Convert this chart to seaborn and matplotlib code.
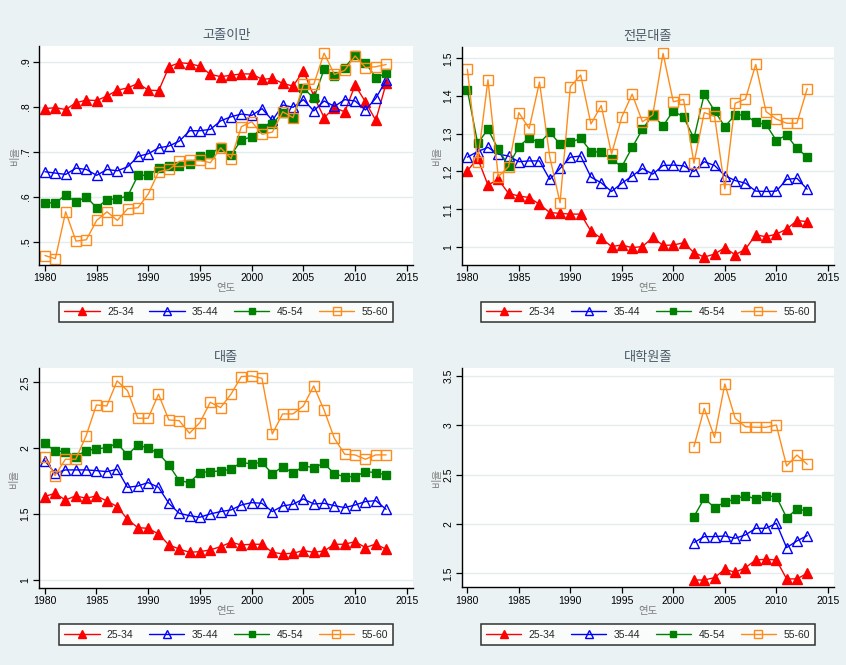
import matplotlib
matplotlib.use("Agg")
import matplotlib.pyplot as plt
from matplotlib.ticker import FuncFormatter
import seaborn as sns

# 연도
years = list(range(1980, 2014))
grad_years = list(range(2002, 2014))
age_groups = ["25-34", "35-44", "45-54", "55-60"]

# 고졸이만
lowhs_2534 = [0.796, 0.798, 0.794, 0.809, 0.815, 0.814, 0.824, 0.837, 0.842, 0.852,
              0.837, 0.836, 0.889, 0.898, 0.896, 0.890, 0.872, 0.867, 0.870, 0.873,
              0.873, 0.861, 0.863, 0.852, 0.846, 0.880, 0.824, 0.776, 0.798, 0.789,
              0.848, 0.811, 0.770, 0.852]
lowhs_3544 = [0.656, 0.653, 0.650, 0.664, 0.661, 0.648, 0.661, 0.658, 0.667, 0.690,
              0.696, 0.709, 0.713, 0.724, 0.747, 0.747, 0.750, 0.769, 0.778, 0.784,
              0.781, 0.796, 0.770, 0.804, 0.799, 0.816, 0.791, 0.813, 0.801, 0.816,
              0.813, 0.793, 0.819, 0.859]
lowhs_4554 = [0.587, 0.587, 0.604, 0.589, 0.600, 0.576, 0.594, 0.596, 0.602, 0.648,
              0.648, 0.664, 0.669, 0.668, 0.673, 0.690, 0.695, 0.711, 0.693, 0.727,
              0.733, 0.753, 0.763, 0.787, 0.776, 0.842, 0.819, 0.883, 0.868, 0.887,
              0.915, 0.898, 0.865, 0.874]
lowhs_5560 = [0.470, 0.463, 0.567, 0.502, 0.505, 0.548, 0.567, 0.548, 0.574, 0.576,
              0.607, 0.656, 0.661, 0.679, 0.681, 0.681, 0.676, 0.709, 0.685, 0.756,
              0.767, 0.739, 0.744, 0.789, 0.776, 0.850, 0.850, 0.919, 0.872, 0.881,
              0.913, 0.887, 0.889, 0.894]

# 전문대졸
college_2534 = [1.202, 1.235, 1.164, 1.179, 1.142, 1.135, 1.131, 1.113, 1.091, 1.089,
                1.087, 1.087, 1.042, 1.023, 1.001, 1.005, 0.998, 1.001, 1.025, 1.004,
                1.005, 1.011, 0.985, 0.973, 0.981, 0.998, 0.979, 0.994, 1.032, 1.027,
                1.034, 1.047, 1.070, 1.067]
college_3544 = [1.238, 1.253, 1.264, 1.246, 1.241, 1.226, 1.228, 1.228, 1.179, 1.208,
                1.238, 1.241, 1.185, 1.170, 1.147, 1.169, 1.188, 1.208, 1.193, 1.216,
                1.217, 1.215, 1.200, 1.226, 1.216, 1.189, 1.176, 1.169, 1.148, 1.147,
                1.148, 1.179, 1.182, 1.153]
college_4554 = [1.416, 1.275, 1.312, 1.259, 1.215, 1.266, 1.290, 1.275, 1.304, 1.273,
                1.277, 1.288, 1.253, 1.251, 1.232, 1.213, 1.264, 1.312, 1.350, 1.321,
                1.361, 1.344, 1.288, 1.405, 1.361, 1.319, 1.350, 1.350, 1.330, 1.325,
                1.282, 1.297, 1.261, 1.239]
college_5560 = [1.471, 1.226, 1.443, 1.186, 1.213, 1.356, 1.314, 1.437, 1.239, 1.117,
                1.425, 1.456, 1.326, 1.375, 1.246, 1.345, 1.405, 1.332, 1.350, 1.513,
                1.385, 1.391, 1.222, 1.356, 1.347, 1.154, 1.381, 1.392, 1.484, 1.359,
                1.339, 1.328, 1.328, 1.420]

# 대졸
univ_2534 = [1.633, 1.658, 1.607, 1.638, 1.620, 1.638, 1.600, 1.557, 1.461, 1.397,
             1.392, 1.349, 1.266, 1.235, 1.210, 1.215, 1.228, 1.253, 1.286, 1.266,
             1.271, 1.271, 1.210, 1.198, 1.203, 1.223, 1.210, 1.220, 1.271, 1.271,
             1.291, 1.246, 1.273, 1.233]
univ_3544 = [1.906, 1.810, 1.835, 1.835, 1.835, 1.830, 1.822, 1.840, 1.703, 1.713,
             1.739, 1.703, 1.582, 1.506, 1.488, 1.476, 1.501, 1.519, 1.531, 1.569,
             1.587, 1.582, 1.519, 1.562, 1.574, 1.615, 1.577, 1.582, 1.564, 1.549,
             1.569, 1.595, 1.602, 1.536]
univ_4554 = [2.037, 1.979, 1.974, 1.936, 1.982, 1.994, 2.004, 2.037, 1.949, 2.025,
             2.000, 1.961, 1.873, 1.754, 1.739, 1.815, 1.822, 1.827, 1.840, 1.893,
             1.880, 1.893, 1.805, 1.860, 1.810, 1.865, 1.853, 1.885, 1.805, 1.784,
             1.784, 1.822, 1.815, 1.797]
univ_5560 = [1.936, 1.792, 1.916, 1.916, 2.093, 2.328, 2.320, 2.510, 2.437, 2.227,
             2.227, 2.409, 2.214, 2.209, 2.113, 2.194, 2.348, 2.308, 2.409, 2.543,
             2.548, 2.530, 2.108, 2.260, 2.260, 2.320, 2.472, 2.290, 2.075, 1.954,
             1.949, 1.916, 1.949, 1.949]

# 대학원졸 (2002년부터)
grad_2534 = [1.432, 1.432, 1.456, 1.541, 1.510, 1.557, 1.635, 1.642, 1.635, 1.443, 1.443, 1.500]
grad_3544 = [1.811, 1.872, 1.872, 1.878, 1.855, 1.889, 1.956, 1.956, 2.007, 1.760, 1.828, 1.882]
grad_4554 = [2.074, 2.260, 2.166, 2.220, 2.253, 2.287, 2.253, 2.284, 2.277, 2.064, 2.149, 2.135]
grad_5560 = [2.784, 3.172, 2.878, 3.419, 3.071, 2.986, 2.980, 2.980, 3.003, 2.588, 2.699, 2.605]

sns.set_style("ticks")
plt.rcParams["font.family"] = ["Liberation Sans", "Noto Sans CJK KR", "DejaVu Sans"]

BG = "#EAF2F3"
# 색, 마커, 채움 여부, 크기
series_style = [
    ("#FF0000", "^", True, 7.0),
    ("#0000FF", "^", False, 7.0),
    ("#008000", "s", True, 6.0),
    ("#FF8C1A", "s", False, 6.5),
]

W, H = 846, 665
fig = plt.figure(figsize=(W / 100, H / 100), dpi=100, facecolor=BG)


def add_axes_px(left, top, right, bottom):
    return fig.add_axes([left / W, 1 - bottom / H, (right - left) / W, (bottom - top) / H])


def fmt_y(v, _):
    s = f"{v:g}"
    return s[1:] if s.startswith("0.") else s


def draw_panel(box, title, xs, series, ylim, yticks, legend_y):
    ax = add_axes_px(*box)
    ax.set_facecolor("white")
    for (color, marker, filled, ms), label, ys in zip(series_style, age_groups, series):
        sns.lineplot(x=xs, y=ys, ax=ax, color=color, linewidth=1.0, marker=marker,
                     markersize=ms, markeredgecolor=color, markeredgewidth=1.0,
                     markerfacecolor=color if filled else "none", errorbar=None,
                     label=label, legend=False)
    ax.set_xlim(1979.45, 2015.6)
    ax.set_ylim(*ylim)
    ax.set_xticks(range(1980, 2016, 5))
    ax.set_yticks(yticks)
    ax.yaxis.set_major_formatter(FuncFormatter(fmt_y))
    ax.yaxis.grid(True, color="#E3ECEF", linewidth=1.0)
    ax.set_axisbelow(True)
    for side in ["top", "right"]:
        ax.spines[side].set_visible(False)
    for side in ["left", "bottom"]:
        ax.spines[side].set_color("black")
        ax.spines[side].set_linewidth(1.0)
    ax.tick_params(axis="both", direction="out", length=4, width=0.9, color="black",
                   labelsize=7.5, labelcolor="black", pad=2)
    for lab in ax.get_yticklabels():
        lab.set_rotation(90)
        lab.set_va("center")
    ax.set_title(title, fontsize=9.5, color="#4A5868", pad=5,
                 family=["Noto Sans CJK KR", "DejaVu Sans"])
    ax.set_xlabel("연도", fontsize=7.5, color="#7F7F7F", labelpad=0,
                  family=["Noto Sans CJK KR", "DejaVu Sans"])
    ax.set_ylabel("비율", fontsize=7.5, color="#7F7F7F", labelpad=1,
                  family=["Noto Sans CJK KR", "DejaVu Sans"])

    handles, labels = ax.get_legend_handles_labels()
    cx = (box[0] + box[2]) / 2
    leg = ax.legend(handles, labels, loc="center", ncol=4,
                    bbox_to_anchor=(cx / W, 1 - legend_y / H), bbox_transform=fig.transFigure,
                    fontsize=7.5, frameon=True, fancybox=False, edgecolor="black",
                    handlelength=3.4, handletextpad=0.7, columnspacing=1.5,
                    borderpad=0.5, borderaxespad=0, markerscale=0.8)
    leg.get_frame().set_linewidth(1.1)
    leg.get_frame().set_facecolor("white")
    return ax


draw_panel((39.3, 46, 413, 265), "고졸이만", years,
           [lowhs_2534, lowhs_3544, lowhs_4554, lowhs_5560],
           (0.449, 0.935), [0.5, 0.6, 0.7, 0.8, 0.9], 312)
draw_panel((461.7, 46.7, 834, 265), "전문대졸", years,
           [college_2534, college_3544, college_4554, college_5560],
           (0.952, 1.531), [1.0, 1.1, 1.2, 1.3, 1.4, 1.5], 312)
draw_panel((39.0, 368.3, 413, 587.5), "대졸", years,
           [univ_2534, univ_3544, univ_4554, univ_5560],
           (0.943, 2.606), [1.0, 1.5, 2.0, 2.5], 634.5)
draw_panel((461.7, 368.3, 834, 587.3), "대학원졸", grad_years,
           [grad_2534, grad_3544, grad_4554, grad_5560],
           (1.358, 3.578), [1.5, 2.0, 2.5, 3.0, 3.5], 634.5)

fig.savefig("out.png", dpi=100, facecolor=BG)
